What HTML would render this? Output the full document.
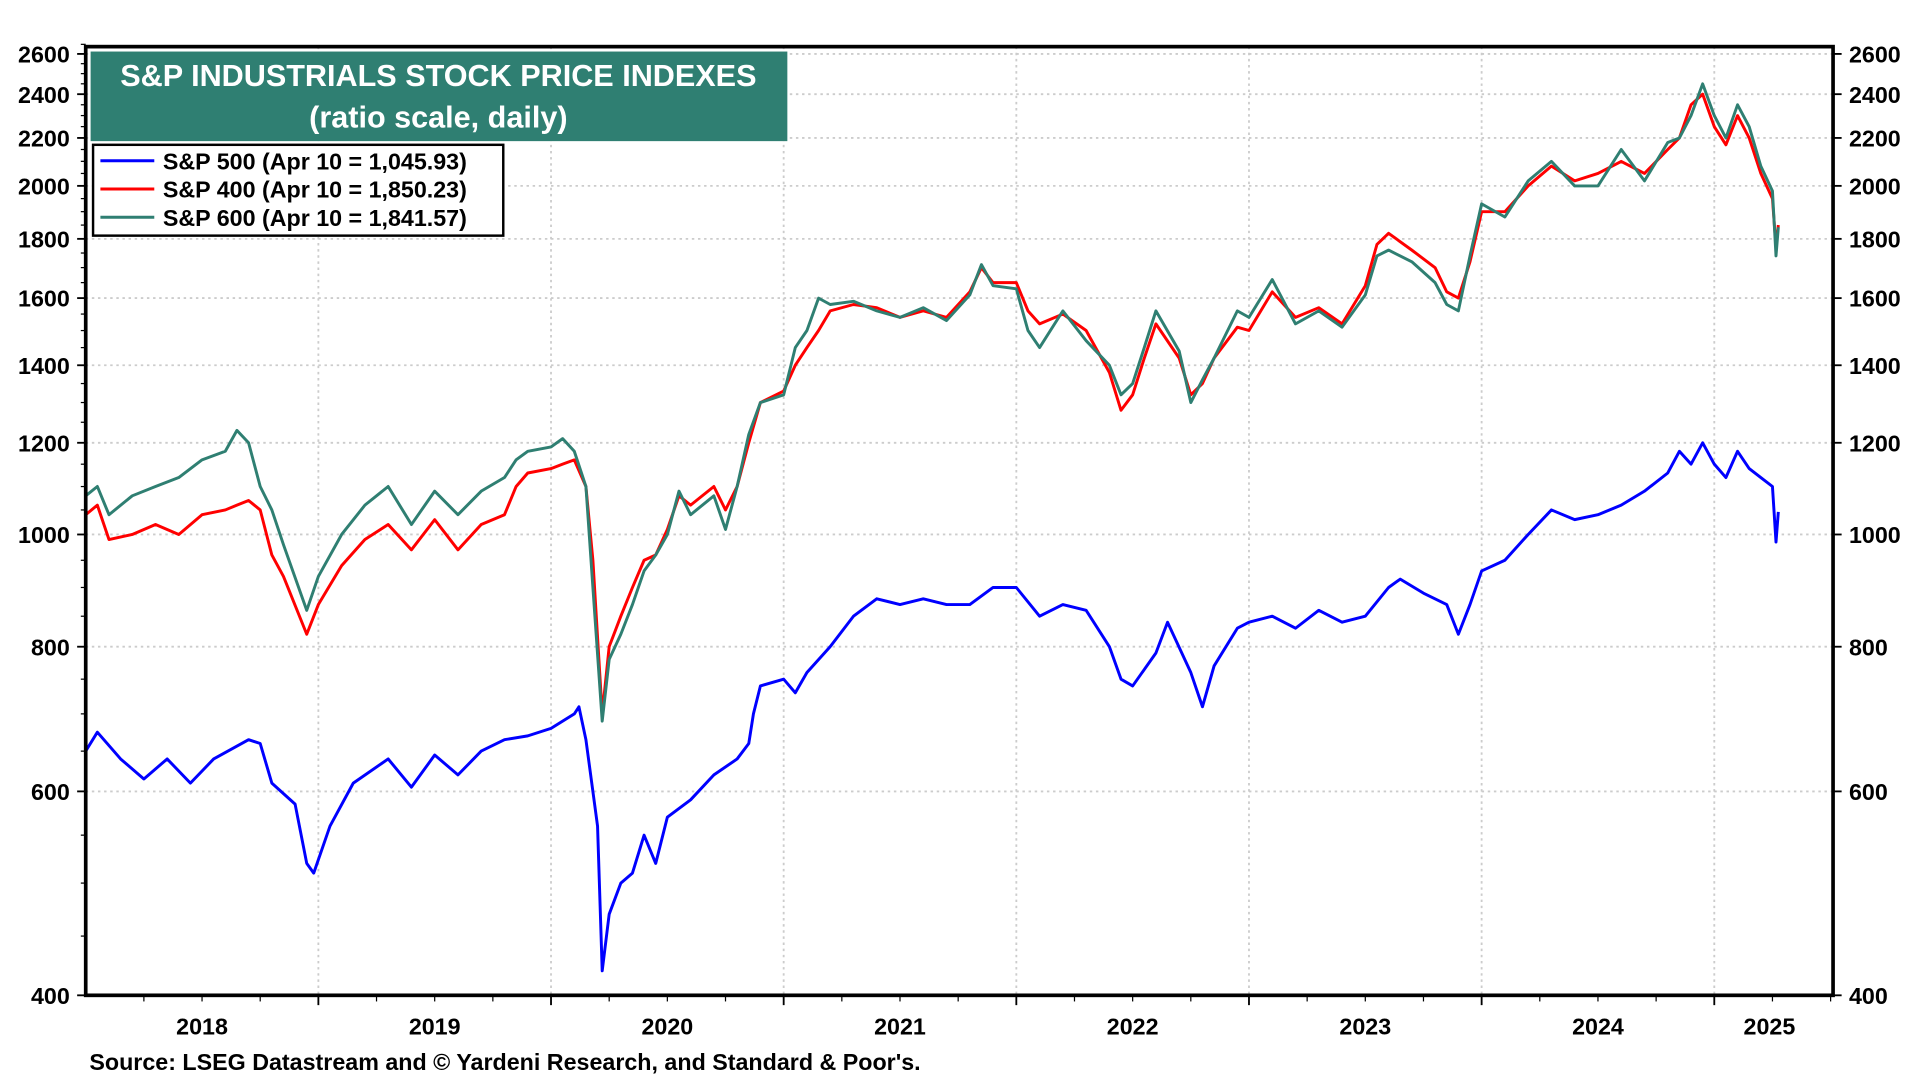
<!DOCTYPE html>
<html><head><meta charset="utf-8"><style>
html,body{margin:0;padding:0;background:#fff;width:1920px;height:1080px;overflow:hidden}
svg{display:block}
text{font-family:"Liberation Sans",Arial,sans-serif;font-weight:bold}
</style></head><body>
<svg id="chart" width="1920" height="1080" viewBox="0 0 1568 880" preserveAspectRatio="none" xmlns="http://www.w3.org/2000/svg">
<g id="grid"></g>
<g id="series"></g>
<rect x="70" y="38" width="1427" height="773" fill="none" stroke="#000" stroke-width="3"/>
<g id="axes"></g>
<rect x="74" y="42" width="569" height="73" fill="#2f7f72"/>
<text x="358" y="70" text-anchor="middle" fill="#fff" font-size="25">S&amp;P INDUSTRIALS STOCK PRICE INDEXES</text>
<text x="358" y="104" text-anchor="middle" fill="#fff" font-size="25">(ratio scale, daily)</text>
<g>
<rect x="76" y="118" width="335" height="74" fill="#fff" stroke="#000" stroke-width="2"/>
<line x1="82" y1="131" x2="126" y2="131" stroke="#0000ff" stroke-width="2.5"/>
<text x="133" y="138" font-size="19">S&amp;P 500 (Apr 10 = 1,045.93)</text>
<line x1="82" y1="154" x2="126" y2="154" stroke="#ff0000" stroke-width="2.5"/>
<text x="133" y="161" font-size="19">S&amp;P 400 (Apr 10 = 1,850.23)</text>
<line x1="82" y1="177" x2="126" y2="177" stroke="#2f7f72" stroke-width="2.5"/>
<text x="133" y="184" font-size="19">S&amp;P 600 (Apr 10 = 1,841.57)</text>
</g>
<text x="73" y="872" font-size="19">Source: LSEG Datastream and © Yardeni Research, and Standard &amp; Poor's.</text>
</svg>
<script>
const yTicks=[400,600,800,1000,1200,1400,1600,1800,2000,2200,2400,2600];
const years=[2018,2019,2020,2021,2022,2023,2024,2025];
const datesBlue=[2018.0,2018.05,2018.15,2018.25,2018.35,2018.45,2018.55,2018.7,2018.75,2018.8,2018.9,2018.95,2018.98,2019.05,2019.15,2019.3,2019.4,2019.5,2019.6,2019.7,2019.8,2019.9,2020.0,2020.1,2020.12,2020.15,2020.2,2020.22,2020.25,2020.3,2020.35,2020.4,2020.45,2020.5,2020.6,2020.7,2020.8,2020.85,2020.87,2020.9,2021.0,2021.05,2021.1,2021.2,2021.3,2021.4,2021.5,2021.6,2021.7,2021.8,2021.9,2022.0,2022.1,2022.2,2022.3,2022.4,2022.45,2022.5,2022.6,2022.65,2022.75,2022.8,2022.85,2022.95,2023.0,2023.1,2023.2,2023.3,2023.4,2023.5,2023.6,2023.65,2023.75,2023.85,2023.9,2023.95,2024.0,2024.1,2024.2,2024.3,2024.4,2024.5,2024.6,2024.7,2024.8,2024.85,2024.9,2024.95,2025.0,2025.05,2025.1,2025.15,2025.2,2025.25,2025.265,2025.275];
const sp500=[650,675,640,615,640,610,640,665,660,610,585,520,510,560,610,640,605,645,620,650,665,670,680,700,710,665,560,420,470,500,510,550,520,570,590,620,640,660,700,740,750,730,760,800,850,880,870,880,870,870,900,900,850,870,860,800,750,740,790,840,760,710,770,830,840,850,830,860,840,850,900,915,890,870,820,870,930,950,1000,1050,1030,1040,1060,1090,1130,1180,1150,1200,1150,1120,1180,1140,1120,1100,985,1046];
const datesMid=[2018.0,2018.05,2018.1,2018.2,2018.3,2018.4,2018.5,2018.6,2018.65,2018.7,2018.75,2018.8,2018.85,2018.95,2019.0,2019.1,2019.2,2019.3,2019.4,2019.5,2019.6,2019.7,2019.8,2019.85,2019.9,2020.0,2020.05,2020.1,2020.15,2020.18,2020.22,2020.25,2020.3,2020.35,2020.4,2020.45,2020.5,2020.55,2020.6,2020.7,2020.75,2020.8,2020.85,2020.9,2021.0,2021.05,2021.1,2021.15,2021.2,2021.3,2021.4,2021.5,2021.6,2021.7,2021.8,2021.85,2021.9,2022.0,2022.05,2022.1,2022.2,2022.3,2022.4,2022.45,2022.5,2022.55,2022.6,2022.7,2022.75,2022.8,2022.85,2022.95,2023.0,2023.1,2023.2,2023.3,2023.4,2023.5,2023.55,2023.6,2023.7,2023.8,2023.85,2023.9,2023.95,2024.0,2024.1,2024.2,2024.3,2024.4,2024.5,2024.6,2024.7,2024.8,2024.85,2024.9,2024.95,2025.0,2025.05,2025.1,2025.15,2025.2,2025.25,2025.265,2025.275];
const sp400=[1040,1060,990,1000,1020,1000,1040,1050,1060,1070,1050,960,920,820,870,940,990,1020,970,1030,970,1020,1040,1100,1130,1140,1150,1160,1100,950,700,800,850,900,950,960,1010,1080,1060,1100,1050,1100,1200,1300,1330,1400,1450,1500,1560,1580,1570,1540,1560,1540,1620,1700,1650,1650,1560,1520,1550,1500,1380,1280,1320,1420,1520,1420,1320,1350,1420,1510,1500,1620,1540,1570,1520,1640,1780,1820,1760,1700,1620,1600,1720,1900,1900,2000,2080,2020,2050,2100,2050,2150,2200,2350,2400,2250,2170,2300,2200,2050,1950,1770,1850];
const sp600=[1080,1100,1040,1080,1100,1120,1160,1180,1230,1200,1100,1050,980,860,920,1000,1060,1100,1020,1090,1040,1090,1120,1160,1180,1190,1210,1180,1100,900,690,780,820,870,930,960,1000,1090,1040,1080,1010,1100,1220,1300,1320,1450,1500,1600,1580,1590,1560,1540,1570,1530,1610,1710,1640,1630,1500,1450,1560,1470,1400,1320,1350,1450,1560,1440,1300,1360,1420,1560,1540,1660,1520,1560,1510,1610,1740,1760,1720,1650,1580,1560,1740,1930,1880,2020,2100,2000,2000,2150,2020,2180,2200,2300,2450,2300,2200,2350,2250,2080,1980,1740,1842];

const NS="http://www.w3.org/2000/svg";
const X0=70,YPX=190,YB=811,K=409.8;
function xs(t){return X0+(t-2018)*YPX;}
function ys(v){return YB-Math.log(v/400)*K;}
function mk(tag,attrs,parent){const e=document.createElementNS(NS,tag);for(const k in attrs)e.setAttribute(k,attrs[k]);parent.appendChild(e);return e;}
const grid=document.getElementById('grid'),axes=document.getElementById('axes'),ser=document.getElementById('series');
yTicks.forEach(v=>{
  const y=ys(v);
  if(v>400&&v<2700){const g=mk('line',{x1:70,x2:1497,y1:y,y2:y,stroke:'#ccc','stroke-width':1.5,'stroke-dasharray':'2,3'},grid);
  
  }
  const tl=mk('line',{x1:63,x2:70,y1:y,y2:y,stroke:'#000','stroke-width':1.5},axes);
  
  
  const tr=mk('line',{x1:1497,x2:1504,y1:y,y2:y,stroke:'#000','stroke-width':1.5},axes);
  
  
  const a=mk('text',{x:57,y:y+7,'text-anchor':'end','font-size':19},axes);a.textContent=v;
  
  
  const b=mk('text',{x:1510,y:y+7,'font-size':19},axes);b.textContent=v;
  
  
});
for(let v=450;v<=2650;v+=50){if(yTicks.includes(v))continue;const y=ys(v);
  const m=mk('line',{x1:66,x2:70,y1:y,y2:y,stroke:'#000','stroke-width':1},axes);
  
  }
years.forEach(yr=>{
  const xb=xs(yr);
  if(yr>2018){const g=mk('line',{x1:xb,x2:xb,y1:38,y2:811,stroke:'#ccc','stroke-width':1.5,'stroke-dasharray':'2,3'},grid);
  
  
  const t=mk('line',{x1:xb,x2:xb,y1:811,y2:819,stroke:'#000','stroke-width':1.5},axes);
  
  }
  [0.25,0.5,0.75].forEach(q=>{const xm=xs(yr+q);if(xm<1497){const m=mk('line',{x1:xm,x2:xm,y1:811,y2:816,stroke:'#000','stroke-width':1},axes);
  
  }});
  const cx=yr===2025?(xs(2025)+1490)/2:xs(yr+0.5);
  const l=mk('text',{x:cx,y:843,'text-anchor':'middle','font-size':19},axes);l.textContent=yr;
  
  
});
function line(dates,vals,color,name){
  const d=dates.map((t,i)=>(i?'L':'M')+xs(t).toFixed(1)+','+ys(vals[i]).toFixed(1)).join('');
  const p=mk('path',{d:d,fill:'none',stroke:color,'stroke-width':2.4,'stroke-linejoin':'round'},ser);
  
  
}
line(datesBlue,sp500,'#0000ff','sp500-line');
line(datesMid,sp400,'#ff0000','sp400-line');
line(datesMid,sp600,'#2f7f72','sp600-line');
</script>
</body></html>
